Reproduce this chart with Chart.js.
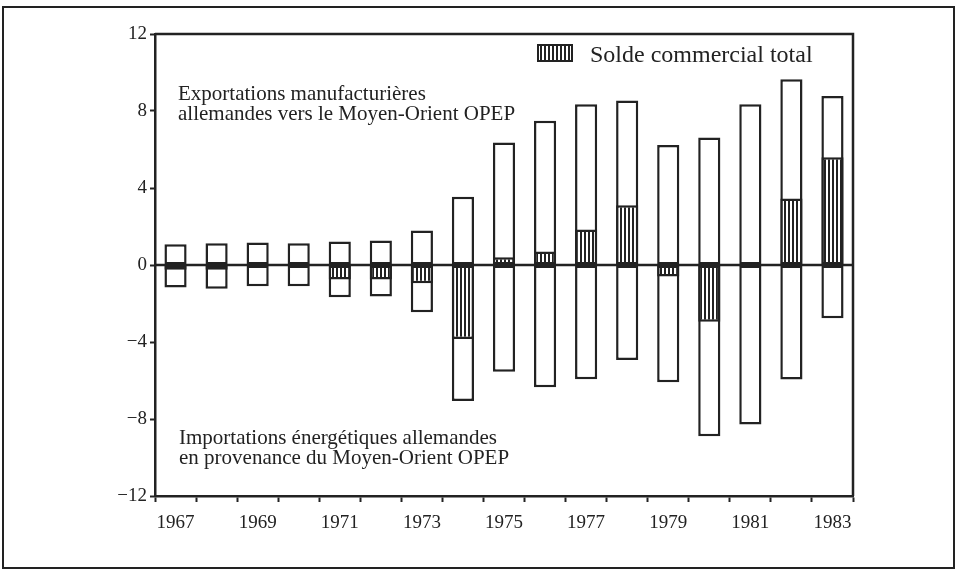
<!DOCTYPE html>
<html lang="fr">
<head>
    <meta charset="UTF-8">
    <title>Solde commercial RFA - Moyen-Orient OPEP</title>
    <script src="https://cdn.jsdelivr.net/npm/chart.js"></script>
    <style>
        html, body { margin: 0; padding: 0; background: #fff; }
        #wrap { width: 956px; height: 571px; }
    </style>
</head>
<body>
    <div id="wrap"><canvas id="chart" width="956" height="571"></canvas></div>

    <script>
        // data (milliards de DM)
        const years = ['1967', '1968', '1969', '1970', '1971', '1972', '1973', '1974', '1975',
                       '1976', '1977', '1978', '1979', '1980', '1981', '1982', '1983'];
        const exportsDM = [1.08, 1.13, 1.17, 1.13, 1.22, 1.27, 1.79, 3.55, 6.36,
                           7.5, 8.35, 8.54, 6.23, 6.62, 8.35, 9.65, 8.78];
        const importsDM = [-1.17, -1.23, -1.11, -1.11, -1.67, -1.63, -2.45, -7.07, -5.55,
                           -6.35, -5.93, -4.93, -6.09, -8.89, -8.28, -5.95, -2.76];
        const balanceDM = [-0.25, -0.25, 0, 0, -0.75, -0.75, -0.95, -3.85, 0.4,
                           0.7, 1.85, 3.1, -0.6, -2.95, -0.08, 3.45, 5.6];
        const yTicks = [-12, -8, -4, 0, 4, 8, 12];

        const ink = '#222';
        const serif = "'Liberation Serif', 'DejaVu Serif', serif";

        // vertical hatching for the balance bars
        function makeHatch() {
            const c = document.createElement('canvas');
            c.width = 4; c.height = 4;
            const g = c.getContext('2d');
            g.fillStyle = '#fff';
            g.fillRect(0, 0, 4, 4);
            g.fillStyle = ink;
            g.fillRect(0, 0, 2, 4);
            return g.createPattern(c, 'repeat');
        }
        const hatch = makeHatch();

        // frame, zero line, notes and legend
        const decor = {
            id: 'decor',
            afterDatasetsDraw(chart) {
                const ctx = chart.ctx;
                const a = chart.chartArea;
                const y0 = chart.scales.y.getPixelForValue(0);
                ctx.save();
                ctx.strokeStyle = ink;

                // outer frame
                ctx.lineWidth = 2;
                ctx.strokeRect(3, 7, 951, 561);

                // top and right side of the plot box
                ctx.lineWidth = 2.5;
                ctx.beginPath();
                ctx.moveTo(a.left, a.top);
                ctx.lineTo(a.right, a.top);
                ctx.lineTo(a.right, a.bottom);
                ctx.stroke();

                // zero line
                ctx.beginPath();
                ctx.moveTo(a.left, y0);
                ctx.lineTo(a.right, y0);
                ctx.stroke();

                // notes
                ctx.fillStyle = ink;
                ctx.font = '21px ' + serif;
                ctx.textBaseline = 'alphabetic';
                ctx.fillText('Exportations manufacturières', a.left + 23, 100);
                ctx.fillText('allemandes vers le Moyen-Orient OPEP', a.left + 23, 120);
                ctx.fillText('Importations énergétiques allemandes', a.left + 24, 444);
                ctx.fillText('en provenance du Moyen-Orient OPEP', a.left + 24, 464);

                // legend
                const lx = 538, ly = 45, lw = 34, lh = 16;
                ctx.fillStyle = hatch;
                ctx.fillRect(lx, ly, lw, lh);
                ctx.lineWidth = 2;
                ctx.strokeRect(lx, ly, lw, lh);
                ctx.fillStyle = ink;
                ctx.font = '24px ' + serif;
                ctx.fillText(chart.data.datasets[2].label, 590, 62);
                ctx.restore();
            }
        };

        const barStyle = {
            backgroundColor: '#fff',
            borderColor: ink,
            borderWidth: 2.5,
            borderSkipped: false,
            grouped: false,
            categoryPercentage: 1,
            barPercentage: 0.54,
            order: 2
        };

        new Chart(document.getElementById('chart'), {
            type: 'bar',
            data: {
                labels: years,
                datasets: [
                    Object.assign({ label: 'Exportations', data: exportsDM }, barStyle),
                    Object.assign({ label: 'Importations', data: importsDM }, barStyle),
                    Object.assign({}, barStyle, {
                        label: 'Solde commercial total',
                        data: balanceDM,
                        backgroundColor: hatch,
                        borderWidth: c => (c.raw === 0 ? 0 : 2.5),
                        order: 1
                    })
                ]
            },
            options: {
                responsive: false,
                animation: false,
                layout: { padding: { top: 34, right: 103, left: 0, bottom: 0 } },
                plugins: {
                    legend: { display: false },
                    tooltip: { enabled: false }
                },
                scales: {
                    x: {
                        afterFit: s => { s.height = 75; },
                        grid: {
                            offset: true,
                            drawOnChartArea: false,
                            tickLength: 6,
                            tickWidth: 2,
                            tickColor: ink
                        },
                        border: { color: ink, width: 2.5 },
                        ticks: {
                            autoSkip: false,
                            maxRotation: 0,
                            padding: 10,
                            color: ink,
                            font: { family: serif, size: 19 },
                            callback: (v, i) => (i % 2 === 0 ? years[i] : '')
                        }
                    },
                    y: {
                        min: -12,
                        max: 12,
                        afterFit: s => { s.width = 155; },
                        afterBuildTicks: s => { s.ticks = yTicks.map(v => ({ value: v })); },
                        grid: {
                            drawOnChartArea: false,
                            tickLength: 5,
                            tickWidth: 2,
                            tickColor: ink
                        },
                        border: { color: ink, width: 2.5 },
                        ticks: {
                            padding: 3,
                            color: ink,
                            font: { family: serif, size: 19 },
                            callback: v => (v < 0 ? '\u2212' + Math.abs(v) : String(v))
                        }
                    }
                }
            },
            plugins: [decor]
        });
    </script>
</body>
</html>
